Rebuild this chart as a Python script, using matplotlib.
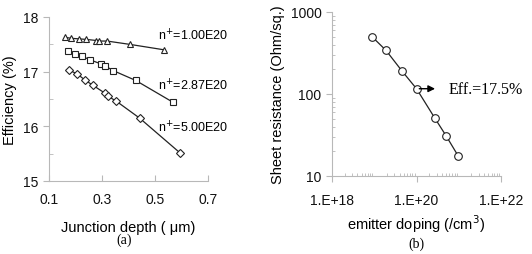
import matplotlib.pyplot as plt
from matplotlib.ticker import LogLocator, NullFormatter, MultipleLocator

plt.rcParams['font.family'] = ['Liberation Sans', 'DejaVu Sans']

# (a) efficiency vs junction depth, three surface dopings
depth_1 = [0.159, 0.184, 0.213, 0.241, 0.279, 0.289, 0.319, 0.404, 0.534]
eff_1 = [17.63, 17.61, 17.60, 17.59, 17.57, 17.56, 17.56, 17.50, 17.40]
depth_2 = [0.172, 0.197, 0.226, 0.253, 0.297, 0.310, 0.342, 0.427, 0.568]
eff_2 = [17.38, 17.33, 17.28, 17.22, 17.14, 17.11, 17.02, 16.84, 16.44]
depth_3 = [0.175, 0.206, 0.235, 0.266, 0.310, 0.323, 0.354, 0.442, 0.593]
eff_3 = [17.03, 16.96, 16.85, 16.75, 16.61, 16.55, 16.46, 16.15, 15.52]
series_labels = ['n$^{+}$=1.00E20', 'n$^{+}$=2.87E20', 'n$^{+}$=5.00E20']
label_y = [17.67, 16.76, 15.99]

# (b) sheet resistance vs emitter doping
doping = [9e18, 1.9e19, 4.6e19, 1.0e20, 2.7e20, 5.0e20, 9.8e20]
sheet_res = [496, 340, 189, 116, 51, 31, 17.4]

spine_c = '#b8b8b8'
line_c = '#222222'

fig = plt.figure(figsize=(5.32, 2.55), dpi=100)
ax1 = fig.add_axes([49 / 532, 1 - 182 / 255, 159 / 532, 164 / 255])
ax2 = fig.add_axes([332 / 532, 1 - 177 / 255, 169 / 532, 164 / 255])

for ax in (ax1, ax2):
    for s in ['top', 'right']:
        ax.spines[s].set_visible(False)
    for s in ['left', 'bottom']:
        ax.spines[s].set_color(spine_c)
        ax.spines[s].set_linewidth(0.8)
    ax.tick_params(which='both', color=spine_c, labelsize=10, labelcolor='#111111')

# panel (a)
ax1.plot(depth_1, eff_1, '-^', color=line_c, lw=0.9, ms=5, mfc='white', mec=line_c, mew=0.8)
ax1.plot(depth_2, eff_2, '-s', color=line_c, lw=0.9, ms=4.8, mfc='white', mec=line_c, mew=0.8)
ax1.plot(depth_3, eff_3, '-D', color=line_c, lw=0.9, ms=3.8, mfc='white', mec=line_c, mew=0.8)
ax1.set_xlim(0.1, 0.7)
ax1.set_ylim(15, 18)
ax1.set_xticks([0.1, 0.3, 0.5, 0.7])
ax1.set_xticklabels(['0.1', '0.3', '0.5', '0.7'])
ax1.set_yticks([15, 16, 17, 18])
ax1.yaxis.set_minor_locator(MultipleLocator(0.5))
ax1.tick_params(axis='x', which='major', direction='in', length=4, pad=8)
ax1.tick_params(axis='y', which='major', direction='out', length=4, pad=4)
ax1.tick_params(axis='y', which='minor', direction='in', length=3)
ax1.set_ylabel('Efficiency (%)', fontsize=10.5, labelpad=4)
ax1.set_xlabel('Junction depth ( \u03bcm)', fontsize=10.5, labelpad=10)
for lab, yy in zip(series_labels, label_y):
    ax1.text(0.51, yy, lab, fontsize=9, ha='left', va='center')
fig.text(ax1.get_position().x0 + ax1.get_position().width * 0.47, 8 / 255, '(a)',
         family='Liberation Serif', fontsize=10, ha='center', va='bottom')

# panel (b)
ax2.plot(doping, sheet_res, '-o', color=line_c, lw=0.9, ms=5.5, mfc='white', mec=line_c, mew=0.8)
ax2.set_xscale('log')
ax2.set_yscale('log')
ax2.set_xlim(1e18, 1e22)
ax2.set_ylim(10, 1000)
ax2.set_xticks([1e18, 1e20, 1e22])
ax2.set_xticklabels(['1.E+18', '1.E+20', '1.E+22'])
ax2.set_yticks([10, 100, 1000])
ax2.set_yticklabels(['10', '100', '1000'])
ax2.xaxis.set_minor_locator(LogLocator(base=10, subs=range(2, 10), numticks=20))
ax2.yaxis.set_minor_locator(LogLocator(base=10, subs=range(2, 10), numticks=20))
ax2.xaxis.set_minor_formatter(NullFormatter())
ax2.yaxis.set_minor_formatter(NullFormatter())
ax2.tick_params(which='major', direction='out', length=4)
ax2.tick_params(axis='x', which='major', pad=8)
ax2.tick_params(which='minor', direction='in', length=2.5)
ax2.set_ylabel('Sheet resistance (Ohm/sq.)', fontsize=10.5, labelpad=4)
ax2.set_xlabel('emitter doping (/cm$^{3}$)', fontsize=10.5, labelpad=4)
ax2.annotate('', xy=(3.2e20, sheet_res[3]), xytext=(doping[3], sheet_res[3]),
             arrowprops=dict(arrowstyle='-|>', color='black', lw=1.0, mutation_scale=10))
ax2.text(5.9e20, sheet_res[3], 'Eff.=17.5%', family='Liberation Serif', fontsize=11.5,
         va='center', ha='left')
fig.text(ax2.get_position().x0 + ax2.get_position().width * 0.5, 4 / 255, '(b)',
         family='Liberation Serif', fontsize=10, ha='center', va='bottom')

fig.savefig('out.png', dpi=100)
